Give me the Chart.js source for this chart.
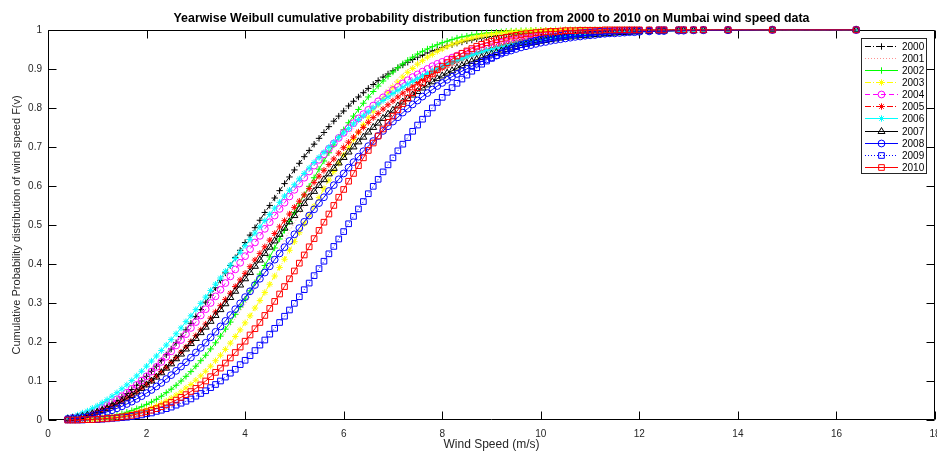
<!DOCTYPE html>
<html><head><meta charset="utf-8">
<script src="https://cdn.jsdelivr.net/npm/chart.js@4.4.1/dist/chart.umd.min.js"></script>
<style>html,body{margin:0;padding:0;background:#fff;overflow:hidden}#wrap{width:937px;height:451px;position:relative;overflow:hidden}canvas{display:block}</style>
</head><body><div id="wrap"><canvas id="c" width="960" height="451"></canvas></div>
<script>
const speeds = [0.4,0.5,0.6,0.7,0.8,0.9,1.0,1.1,1.2,1.3,
1.4,1.5,1.6,1.7,1.8,1.9,2.0,2.1,2.2,2.3,
2.4,2.5,2.6,2.7,2.8,2.9,3.0,3.1,3.2,3.3,
3.4,3.5,3.6,3.7,3.8,3.9,4.0,4.1,4.2,4.3,
4.4,4.5,4.6,4.7,4.8,4.9,5.0,5.1,5.2,5.3,
5.4,5.5,5.6,5.7,5.8,5.9,6.0,6.1,6.2,6.3,
6.4,6.5,6.6,6.7,6.8,6.9,7.0,7.1,7.2,7.3,
7.4,7.5,7.6,7.7,7.8,7.9,8.0,8.1,8.2,8.3,
8.4,8.5,8.6,8.7,8.8,8.9,9.0,9.1,9.2,9.3,
9.4,9.5,9.6,9.7,9.8,9.9,10.0,10.1,10.2,10.3,
10.4,10.5,10.6,10.7,10.8,10.9,11.0,11.1,11.2,11.3,
11.4,11.5,11.6,11.7,11.8,11.9,12.0,
12.2,12.4,12.5,12.8,12.9,13.1,13.3,13.8,14.7,16.4];

const years = ['2000','2001','2002','2003','2004','2005','2006','2007','2008','2009','2010'];

const y2000 = [.003,.005,.007,.010,.014,.018,.023,.029,.035,.042,
.050,.059,.068,.078,.089,.100,.112,.125,.138,.152,
.167,.182,.198,.214,.231,.248,.265,.283,.302,.320,
.339,.358,.377,.396,.416,.435,.455,.474,.493,.512,
.532,.550,.569,.588,.606,.623,.641,.658,.675,.691,
.707,.722,.737,.752,.766,.779,.792,.805,.817,.828,
.839,.850,.860,.870,.879,.887,.895,.903,.910,.917,
.924,.930,.935,.941,.946,.950,.955,.959,.962,.966,
.969,.972,.974,.977,.979,.981,.983,.985,.986,.988,
.989,.990,.991,.992,.993,.994,.995,.995,.996,.996,
.997,.997,.998,.998,.998,.998,.999,.999,.999,.999,
.999,.999,.999,1,1,1,1,
1,1,1,1,1,1,1,1,1,1];

const y2001 = [0,.001,.001,.002,.002,.003,.005,.006,.008,.011,
.014,.017,.020,.025,.029,.034,.040,.047,.054,.061,
.070,.079,.089,.099,.110,.122,.135,.148,.162,.176,
.192,.208,.224,.242,.260,.278,.297,.316,.336,.357,
.377,.398,.419,.441,.462,.484,.505,.527,.548,.570,
.591,.612,.632,.652,.672,.691,.710,.729,.746,.763,
.780,.796,.811,.825,.839,.852,.864,.876,.887,.897,
.907,.916,.924,.932,.939,.945,.951,.957,.962,.966,
.970,.974,.977,.980,.983,.985,.987,.989,.991,.992,
.993,.994,.995,.996,.997,.997,.998,.998,.998,.999,
.999,.999,.999,.999,1,1,1,1,1,1,
1,1,1,1,1,1,1,
1,1,1,1,1,1,1,1,1,1];

const y2002 = [0,0,.001,.001,.002,.003,.004,.006,.008,.010,
.013,.016,.020,.024,.029,.034,.040,.046,.053,.061,
.070,.079,.089,.100,.112,.124,.138,.152,.166,.182,
.198,.215,.233,.251,.271,.290,.310,.331,.352,.374,
.396,.418,.441,.464,.486,.509,.532,.555,.577,.599,
.621,.643,.664,.685,.705,.725,.744,.762,.779,.796,
.812,.828,.842,.856,.869,.881,.892,.903,.913,.922,
.930,.938,.945,.951,.957,.962,.967,.971,.975,.979,
.982,.984,.987,.989,.990,.992,.993,.994,.995,.996,
.997,.997,.998,.998,.999,.999,.999,.999,.999,1,
1,1,1,1,1,1,1,1,1,1,
1,1,1,1,1,1,1,
1,1,1,1,1,1,1,1,1,1];

const y2003 = [0,0,0,.001,.001,.002,.003,.004,.005,.006,
.008,.010,.013,.015,.019,.023,.027,.032,.037,.043,
.049,.056,.064,.072,.082,.091,.102,.113,.125,.138,
.152,.166,.181,.197,.214,.231,.249,.267,.287,.306,
.327,.348,.369,.391,.412,.435,.457,.480,.503,.525,
.548,.570,.593,.615,.637,.658,.679,.699,.719,.738,
.757,.775,.792,.808,.824,.839,.853,.866,.879,.891,
.901,.912,.921,.930,.937,.945,.951,.957,.963,.967,
.972,.976,.979,.982,.985,.987,.989,.991,.992,.994,
.995,.996,.996,.997,.998,.998,.998,.999,.999,.999,
.999,1,1,1,1,1,1,1,1,1,
1,1,1,1,1,1,1,
1,1,1,1,1,1,1,1,1,1];

const y2004 = [.003,.006,.008,.012,.016,.020,.026,.031,.038,.045,
.053,.061,.070,.080,.090,.101,.112,.124,.136,.149,
.162,.176,.191,.205,.220,.236,.251,.268,.284,.300,
.317,.334,.351,.368,.386,.403,.420,.438,.455,.472,
.490,.507,.524,.541,.557,.573,.590,.606,.621,.637,
.652,.667,.681,.695,.709,.723,.736,.748,.761,.773,
.784,.795,.806,.817,.827,.836,.846,.854,.863,.871,
.879,.886,.893,.900,.907,.913,.918,.924,.929,.934,
.939,.943,.947,.951,.955,.958,.961,.964,.967,.970,
.972,.974,.976,.978,.980,.982,.983,.985,.986,.987,
.989,.990,.991,.991,.992,.993,.994,.994,.995,.995,
.996,.996,.997,.997,.997,.998,.998,
.998,.999,.999,.999,.999,.999,1,1,1,1];

const y2005 = [.002,.004,.006,.009,.012,.015,.019,.024,.029,.035,
.041,.048,.056,.064,.072,.082,.091,.101,.112,.124,
.135,.148,.160,.174,.187,.201,.216,.231,.246,.261,
.277,.293,.309,.325,.342,.359,.376,.393,.410,.427,
.444,.461,.478,.495,.511,.528,.545,.561,.577,.593,
.609,.625,.640,.655,.669,.684,.698,.712,.725,.738,
.750,.763,.775,.786,.797,.808,.818,.828,.838,.847,
.856,.865,.873,.880,.888,.895,.902,.908,.914,.920,
.925,.931,.935,.940,.944,.948,.952,.956,.959,.962,
.965,.968,.971,.973,.975,.977,.979,.981,.983,.984,
.986,.987,.988,.989,.990,.991,.992,.993,.993,.994,
.995,.995,.996,.996,.997,.997,.997,
.998,.998,.999,.999,.999,.999,.999,1,1,1];

const y2006 = [.006,.009,.013,.018,.023,.030,.036,.044,.052,.061,
.070,.080,.090,.101,.113,.125,.138,.151,.164,.178,
.192,.206,.221,.236,.252,.267,.283,.299,.315,.332,
.348,.364,.381,.397,.414,.430,.447,.463,.479,.495,
.511,.527,.543,.558,.574,.589,.603,.618,.632,.646,
.660,.673,.686,.699,.712,.724,.736,.747,.759,.770,
.780,.790,.800,.810,.819,.828,.837,.845,.853,.861,
.868,.875,.882,.888,.895,.901,.906,.912,.917,.922,
.926,.931,.935,.939,.943,.947,.950,.953,.956,.959,
.962,.965,.967,.969,.971,.973,.975,.977,.979,.980,
.982,.983,.984,.986,.987,.988,.989,.990,.990,.991,
.992,.993,.993,.994,.994,.995,.995,
.996,.997,.997,.998,.998,.998,.999,.999,1,1];

const y2007 = [.003,.004,.006,.009,.012,.016,.020,.024,.029,.035,
.041,.048,.056,.063,.072,.081,.090,.100,.110,.121,
.133,.144,.157,.169,.182,.196,.209,.224,.238,.253,
.268,.283,.298,.314,.330,.346,.362,.378,.394,.410,
.427,.443,.459,.476,.492,.508,.524,.540,.555,.571,
.586,.601,.616,.631,.645,.659,.673,.687,.700,.713,
.725,.738,.750,.761,.773,.784,.794,.805,.815,.824,
.833,.842,.851,.859,.867,.875,.882,.889,.895,.902,
.908,.914,.919,.924,.929,.934,.938,.942,.946,.950,
.954,.957,.960,.963,.966,.968,.971,.973,.975,.977,
.979,.981,.982,.984,.985,.986,.987,.988,.989,.990,
.991,.992,.993,.993,.994,.995,.995,
.996,.997,.997,.998,.998,.998,.999,.999,1,1];

const y2008 = [.002,.003,.004,.006,.008,.010,.013,.017,.021,.025,
.030,.035,.041,.047,.054,.061,.069,.077,.086,.095,
.105,.115,.126,.137,.148,.160,.173,.185,.198,.212,
.226,.240,.254,.269,.284,.299,.315,.330,.346,.362,
.378,.394,.411,.427,.443,.459,.476,.492,.508,.524,
.540,.556,.571,.587,.602,.617,.632,.647,.661,.675,
.689,.702,.715,.728,.741,.753,.765,.776,.788,.798,
.809,.819,.829,.838,.847,.856,.864,.872,.880,.887,
.894,.900,.907,.913,.919,.924,.929,.934,.939,.943,
.947,.951,.955,.958,.961,.964,.967,.969,.972,.974,
.976,.978,.980,.982,.983,.985,.986,.987,.989,.990,
.991,.991,.992,.993,.994,.994,.995,
.996,.997,.997,.998,.998,.999,.999,.999,1,1];

const y2009 = [0,0,0,0,.001,.001,.001,.002,.003,.004,
.005,.006,.007,.009,.011,.013,.016,.018,.022,.025,
.029,.033,.038,.043,.048,.054,.061,.068,.075,.083,
.091,.100,.110,.120,.130,.142,.153,.165,.178,.192,
.205,.220,.235,.250,.266,.282,.299,.316,.334,.351,
.370,.388,.407,.426,.445,.464,.483,.503,.522,.541,
.560,.580,.599,.617,.636,.654,.672,.690,.707,.724,
.740,.756,.771,.786,.800,.814,.827,.840,.852,.863,
.874,.884,.894,.903,.912,.920,.927,.934,.941,.947,
.952,.957,.962,.966,.970,.973,.976,.979,.982,.984,
.986,.988,.990,.991,.992,.993,.994,.995,.996,.997,
.997,.998,.998,.998,.999,.999,.999,
.999,1,1,1,1,1,1,1,1,1];

const y2010 = [0,0,0,.001,.001,.001,.002,.003,.004,.005,
.006,.008,.010,.012,.015,.018,.021,.025,.029,.034,
.039,.045,.051,.058,.065,.073,.081,.090,.100,.111,
.122,.133,.146,.159,.173,.187,.202,.218,.234,.250,
.268,.286,.304,.323,.342,.362,.382,.402,.423,.444,
.465,.486,.507,.528,.550,.571,.591,.612,.632,.652,
.672,.691,.710,.728,.746,.763,.779,.795,.811,.825,
.839,.852,.864,.876,.887,.898,.907,.916,.925,.933,
.940,.946,.952,.958,.963,.967,.971,.975,.978,.981,
.984,.986,.988,.990,.991,.993,.994,.995,.996,.996,
.997,.998,.998,.998,.999,.999,.999,.999,.999,1,
1,1,1,1,1,1,1,
1,1,1,1,1,1,1,1,1,1];

const seriesValues = [y2000,y2001,y2002,y2003,y2004,y2005,y2006,y2007,y2008,y2009,y2010];

const xTicks = [0,2,4,6,8,10,12,14,16,18];
const yTicks = [0,0.1,0.2,0.3,0.4,0.5,0.6,0.7,0.8,0.9,1];
const yTickLabels = ['0','0.1','0.2','0.3','0.4','0.5','0.6','0.7','0.8','0.9','1'];

const titleText = 'Yearwise Weibull cumulative probability distribution function from 2000 to 2010 on Mumbai wind speed data';
const xTitle = 'Wind Speed (m/s)';
const yTitle = 'Cumulative Probability distribution of wind speed F(v)';

// visual styles (MATLAB-like line specs)
const looks = [
  {c:'#000000', p:'cross',    r:3.2, dash:[6,2,1,2]},
  {c:'#ff8f8f', p:false,      r:0,   dash:[1,2]},
  {c:'#00ff00', p:'cross',    r:3.2, dash:[]},
  {c:'#ffff00', p:'star',     r:3.2, dash:[6,2,1,2]},
  {c:'#ff00ff', p:'circle',   r:3.4, dash:[5,3]},
  {c:'#ff0000', p:'star',     r:3.2, dash:[6,2,1,2]},
  {c:'#00ffff', p:'star',     r:3.2, dash:[]},
  {c:'#000000', p:'triangle', r:4.0, dash:[]},
  {c:'#0000ff', p:'circle',   r:3.4, dash:[]},
  {c:'#0000ff', p:'rect',     r:4.0, dash:[1,2]},
  {c:'#ff0000', p:'rect',     r:4.0, dash:[]}
];

const datasets = years.map((yr,i)=>({
  label: yr,
  data: speeds.map((s,j)=>({x:s, y:seriesValues[i][j]})),
  borderColor: looks[i].c,
  backgroundColor: 'rgba(0,0,0,0)',
  borderWidth: 1,
  borderDash: looks[i].dash,
  pointStyle: looks[i].p || 'circle',
  pointRadius: looks[i].r,
  pointBorderWidth: 1,
  pointBorderColor: looks[i].c,
  pointBackgroundColor: 'rgba(0,0,0,0)',
  pointHoverRadius: looks[i].r,
  tension: 0,
  fill: false,
  clip: false,
  order: 10 - i
}));

const axesBox = {
  id: 'axesBox',
  beforeDatasetsDraw(chart){
    const {ctx, chartArea:a, scales} = chart;
    const L=Math.round(a.left)+0.5, R=Math.round(a.right)-0.5, T=Math.round(a.top)+0.5, B=Math.round(a.bottom)-0.5;
    ctx.save();
    ctx.strokeStyle='#000'; ctx.lineWidth=1; ctx.setLineDash([]);
    ctx.beginPath();
    ctx.rect(L,T,R-L,B-T);
    const tl=8;
    scales.x.ticks.forEach(t=>{
      const px=Math.round(scales.x.getPixelForValue(t.value))+0.5;
      if(px<L-1||px>R+1) return;
      ctx.moveTo(px,B); ctx.lineTo(px,B-tl);
      ctx.moveTo(px,T); ctx.lineTo(px,T+tl);
    });
    scales.y.ticks.forEach(t=>{
      const py=Math.round(scales.y.getPixelForValue(t.value))+0.5;
      ctx.moveTo(L,py); ctx.lineTo(L+tl,py);
      ctx.moveTo(R,py); ctx.lineTo(R-tl,py);
    });
    ctx.stroke();
    ctx.restore();
  }
};

function drawMarker(ctx, style, x, y, r){
  if (Chart.helpers && Chart.helpers.drawPoint){
    Chart.helpers.drawPoint(ctx, {pointStyle:style, radius:r, borderWidth:1, rotation:0}, x, y);
    return;
  }
  ctx.beginPath(); ctx.arc(x,y,r,0,Math.PI*2); ctx.stroke();
}

const matlabLegend = {
  id: 'matlabLegend',
  afterDatasetsDraw(chart){
    const ctx=chart.ctx;
    const x0=861.5, y0=38.5, w=65, h=135;
    ctx.save();
    ctx.fillStyle='#fff'; ctx.fillRect(x0,y0,w,h);
    ctx.strokeStyle='#262626'; ctx.lineWidth=1; ctx.setLineDash([]);
    ctx.strokeRect(x0,y0,w,h);
    chart.data.datasets.forEach((ds,i)=>{
      const yy = Math.round(45.5 + i*12.15)+0.5;
      ctx.strokeStyle=ds.borderColor; ctx.lineWidth=1;
      ctx.setLineDash(ds.borderDash||[]);
      ctx.beginPath(); ctx.moveTo(865,yy); ctx.lineTo(898,yy); ctx.stroke();
      ctx.setLineDash([]);
      if (looks[i].p){
        ctx.fillStyle='rgba(0,0,0,0)';
        ctx.strokeStyle=ds.borderColor;
        drawMarker(ctx, looks[i].p, 881.5, yy, looks[i].r);
      }
      ctx.fillStyle='#000';
      ctx.font='10px "Liberation Sans", Arial, sans-serif';
      ctx.textBaseline='middle'; ctx.textAlign='left';
      ctx.fillText(ds.label, 902, yy+0.5);
    });
    ctx.restore();
  }
};

const tickFont = {family:'"Liberation Sans", Arial, sans-serif', size:10};

new Chart(document.getElementById('c'), {
  type: 'line',
  data: { datasets },
  options: {
    responsive: false,
    animation: false,
    devicePixelRatio: 1,
    layout: { padding: {left:0, right:25, top:0, bottom:0} },
    plugins: {
      legend: {display:false},
      tooltip: {enabled:false},
      title: {
        display:true, text:titleText, fullSize:false, color:'#000',
        font:{family:'"Liberation Sans", Arial, sans-serif', size:12.4, weight:'bold', lineHeight:1.2},
        padding:{top:11, bottom:4}
      }
    },
    scales: {
      x: {
        type:'linear', min:0, max:18,
        afterBuildTicks: s => { s.ticks = xTicks.map(v=>({value:v})); },
        ticks: { font: tickFont, color:'#262626', padding:8, maxRotation:0, autoSkip:false,
                 callback: v => String(v) },
        grid: {display:false, drawTicks:false},
        border: {display:false},
        title: {display:true, text:xTitle, color:'#262626',
                font:{family:'"Liberation Sans", Arial, sans-serif', size:12, lineHeight:1}, padding:{top:0,bottom:0}},
        afterFit: s => { s.height = 31; }
      },
      y: {
        type:'linear', min:0, max:1,
        afterBuildTicks: s => { s.ticks = yTicks.map(v=>({value:v})); },
        ticks: { font: tickFont, color:'#262626', padding:6, autoSkip:false,
                 callback: (v,idx) => yTickLabels[idx] },
        grid: {display:false, drawTicks:false},
        border: {display:false},
        title: {display:true, text:yTitle, color:'#262626',
                font:{family:'"Liberation Sans", Arial, sans-serif', size:11, lineHeight:1.2}, padding:{top:10,bottom:0}},
        afterFit: s => { s.width = 48; }
      }
    }
  },
  plugins: [axesBox, matlabLegend]
});
</script>
</body></html>
